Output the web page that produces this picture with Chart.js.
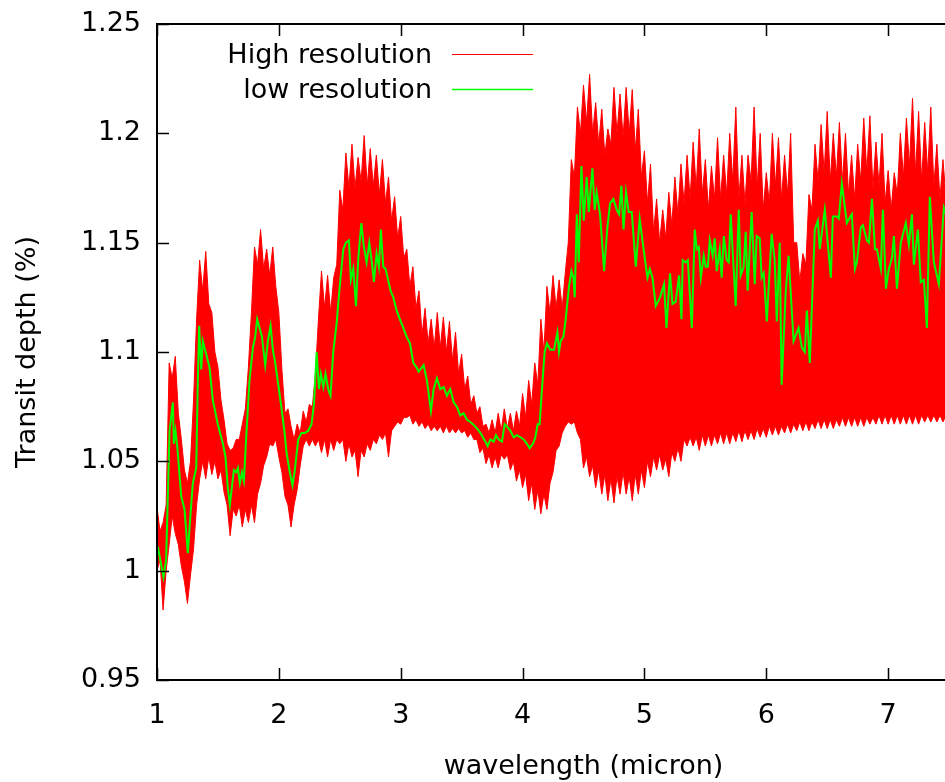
<!DOCTYPE html>
<html>
<head>
<meta charset="utf-8">
<script src="https://cdn.jsdelivr.net/npm/chart.js@4.4.1/dist/chart.umd.min.js"></script>
<style>
  html, body { margin: 0; padding: 0; background: #fff; overflow: hidden; }
  #wrap { width: 945px; height: 782px; overflow: hidden; }
</style>
</head>
<body>
<div id="wrap"><canvas id="spectrum" width="1030" height="782"></canvas></div>
<script>
// Tick values
const xTicks = [1, 2, 3, 4, 5, 6, 7];
const yTicks = [0.95, 1, 1.05, 1.1, 1.15, 1.2, 1.25];

// High resolution spectrum, drawn as the band between its upper and lower edge
const hiResWl = [
    1.000, 1.025, 1.050, 1.075, 1.100, 1.125, 1.150, 1.175, 1.200, 1.225,
    1.250, 1.275, 1.300, 1.325, 1.350, 1.375, 1.400, 1.425, 1.450, 1.475,
    1.500, 1.525, 1.550, 1.575, 1.600, 1.625, 1.650, 1.675, 1.700, 1.725,
    1.750, 1.775, 1.800, 1.825, 1.850, 1.875, 1.900, 1.925, 1.950, 1.975,
    2.000, 2.025, 2.050, 2.075, 2.100, 2.125, 2.150, 2.175, 2.200, 2.225,
    2.250, 2.275, 2.300, 2.325, 2.350, 2.375, 2.400, 2.425, 2.450, 2.475,
    2.500, 2.525, 2.550, 2.575, 2.600, 2.625, 2.650, 2.675, 2.700, 2.725,
    2.750, 2.775, 2.800, 2.825, 2.850, 2.875, 2.900, 2.925, 2.950, 2.975,
    3.000, 3.025, 3.050, 3.075, 3.100, 3.125, 3.150, 3.175, 3.200, 3.225,
    3.250, 3.275, 3.300, 3.325, 3.350, 3.375, 3.400, 3.425, 3.450, 3.475,
    3.500, 3.525, 3.550, 3.575, 3.600, 3.625, 3.650, 3.675, 3.700, 3.725,
    3.750, 3.775, 3.800, 3.825, 3.850, 3.875, 3.900, 3.925, 3.950, 3.975,
    4.000, 4.025, 4.050, 4.075, 4.100, 4.125, 4.150, 4.175, 4.200, 4.225,
    4.250, 4.275, 4.300, 4.325, 4.350, 4.375, 4.400, 4.425, 4.450, 4.475,
    4.500, 4.525, 4.550, 4.575, 4.600, 4.625, 4.650, 4.675, 4.700, 4.725,
    4.750, 4.775, 4.800, 4.825, 4.850, 4.875, 4.900, 4.925, 4.950, 4.975,
    5.000, 5.025, 5.050, 5.075, 5.100, 5.125, 5.150, 5.175, 5.200, 5.225,
    5.250, 5.275, 5.300, 5.325, 5.350, 5.375, 5.400, 5.425, 5.450, 5.475,
    5.500, 5.525, 5.550, 5.575, 5.600, 5.625, 5.650, 5.675, 5.700, 5.725,
    5.750, 5.775, 5.800, 5.825, 5.850, 5.875, 5.900, 5.925, 5.950, 5.975,
    6.000, 6.025, 6.050, 6.075, 6.100, 6.125, 6.150, 6.175, 6.200, 6.225,
    6.250, 6.275, 6.300, 6.325, 6.350, 6.375, 6.400, 6.425, 6.450, 6.475,
    6.500, 6.525, 6.550, 6.575, 6.600, 6.625, 6.650, 6.675, 6.700, 6.725,
    6.750, 6.775, 6.800, 6.825, 6.850, 6.875, 6.900, 6.925, 6.950, 6.975,
    7.000, 7.025, 7.050, 7.075, 7.100, 7.125, 7.150, 7.175, 7.200, 7.225,
    7.250, 7.275, 7.300, 7.325, 7.350, 7.375, 7.400, 7.425, 7.450, 7.475
];
const hiResUpper = [
    1.029, 1.018, 1.022, 1.030, 1.095, 1.088, 1.098, 1.072, 1.060, 1.046,
    1.040, 1.050, 1.078, 1.115, 1.142, 1.128, 1.146, 1.122, 1.118, 1.100,
    1.093, 1.078, 1.069, 1.058, 1.055, 1.056, 1.060, 1.060, 1.067, 1.074,
    1.093, 1.118, 1.148, 1.140, 1.156, 1.138, 1.147, 1.135, 1.148, 1.130,
    1.118, 1.092, 1.072, 1.074, 1.066, 1.060, 1.067, 1.063, 1.073, 1.068,
    1.076, 1.075, 1.090, 1.115, 1.137, 1.120, 1.135, 1.118, 1.134, 1.140,
    1.174, 1.165, 1.191, 1.175, 1.195, 1.175, 1.189, 1.178, 1.199, 1.176,
    1.193, 1.176, 1.190, 1.172, 1.188, 1.168, 1.180, 1.160, 1.171, 1.152,
    1.162, 1.143, 1.147, 1.130, 1.139, 1.120, 1.128, 1.108, 1.120, 1.104,
    1.115, 1.102, 1.118, 1.102, 1.116, 1.100, 1.114, 1.096, 1.109, 1.090,
    1.099, 1.083, 1.089, 1.076, 1.080, 1.072, 1.075, 1.066, 1.067, 1.063,
    1.069, 1.063, 1.072, 1.064, 1.074, 1.065, 1.072, 1.064, 1.073, 1.066,
    1.081, 1.070, 1.087, 1.076, 1.095, 1.085, 1.115, 1.100, 1.130, 1.118,
    1.135, 1.120, 1.133, 1.120, 1.136, 1.150, 1.188, 1.180, 1.212, 1.200,
    1.222, 1.205, 1.227, 1.200, 1.214, 1.195, 1.211, 1.190, 1.202, 1.195,
    1.221, 1.200, 1.218, 1.198, 1.221, 1.200, 1.220, 1.192, 1.211, 1.180,
    1.192, 1.168, 1.186, 1.155, 1.170, 1.150, 1.165, 1.152, 1.173, 1.158,
    1.180, 1.163, 1.186, 1.168, 1.190, 1.170, 1.196, 1.175, 1.202, 1.172,
    1.188, 1.165, 1.185, 1.170, 1.198, 1.170, 1.190, 1.172, 1.200, 1.178,
    1.212, 1.170, 1.190, 1.168, 1.190, 1.178, 1.212, 1.175, 1.200, 1.165,
    1.182, 1.168, 1.200, 1.176, 1.198, 1.170, 1.190, 1.172, 1.200, 1.150,
    1.150, 1.132, 1.145, 1.140, 1.172, 1.165, 1.195, 1.178, 1.204, 1.182,
    1.210, 1.178, 1.200, 1.180, 1.205, 1.178, 1.200, 1.172, 1.190, 1.170,
    1.195, 1.178, 1.207, 1.182, 1.208, 1.175, 1.196, 1.176, 1.200, 1.168,
    1.183, 1.165, 1.182, 1.172, 1.200, 1.180, 1.207, 1.185, 1.216, 1.182,
    1.210, 1.178, 1.205, 1.182, 1.212, 1.176, 1.195, 1.170, 1.188, 1.170
];
const hiResLower = [
    1.000, 1.005, 0.982, 1.000, 1.012, 1.025, 1.017, 1.012, 1.002, 0.995,
    0.985, 0.998, 1.010, 1.030, 1.042, 1.050, 1.042, 1.052, 1.044, 1.050,
    1.042, 1.046, 1.036, 1.030, 1.016, 1.028, 1.025, 1.030, 1.020, 1.028,
    1.022, 1.030, 1.022, 1.035, 1.040, 1.048, 1.052, 1.058, 1.057, 1.060,
    1.052, 1.045, 1.034, 1.030, 1.020, 1.030, 1.037, 1.048, 1.057, 1.060,
    1.057, 1.060, 1.057, 1.060, 1.054, 1.060, 1.052, 1.060, 1.055, 1.060,
    1.058, 1.060, 1.050, 1.058, 1.052, 1.055, 1.043, 1.055, 1.052, 1.058,
    1.055, 1.060, 1.058, 1.062, 1.060, 1.063, 1.052, 1.064, 1.066, 1.068,
    1.067, 1.070, 1.070, 1.071, 1.067, 1.069, 1.066, 1.068, 1.065, 1.067,
    1.064, 1.066, 1.064, 1.066, 1.063, 1.066, 1.063, 1.065, 1.063, 1.065,
    1.063, 1.064, 1.061, 1.063, 1.060, 1.060, 1.054, 1.056, 1.049, 1.053,
    1.047, 1.052, 1.047, 1.053, 1.051, 1.053, 1.046, 1.050, 1.041, 1.046,
    1.038, 1.044, 1.032, 1.040, 1.028, 1.037, 1.026, 1.035, 1.028, 1.040,
    1.045, 1.055, 1.057, 1.063, 1.066, 1.068, 1.067, 1.068, 1.063, 1.060,
    1.047, 1.052, 1.043, 1.048, 1.038, 1.046, 1.035, 1.044, 1.032, 1.042,
    1.031, 1.043, 1.035, 1.045, 1.035, 1.043, 1.032, 1.044, 1.035, 1.046,
    1.038, 1.050, 1.043, 1.052, 1.046, 1.053, 1.046, 1.051, 1.043, 1.054,
    1.050, 1.056, 1.050, 1.060, 1.057, 1.061, 1.057, 1.061, 1.055, 1.062,
    1.057, 1.062, 1.057, 1.062, 1.058, 1.063, 1.058, 1.063, 1.058, 1.063,
    1.059, 1.064, 1.059, 1.064, 1.060, 1.064, 1.060, 1.065, 1.061, 1.065,
    1.061, 1.066, 1.062, 1.066, 1.062, 1.066, 1.063, 1.067, 1.063, 1.067,
    1.064, 1.068, 1.064, 1.068, 1.064, 1.068, 1.065, 1.069, 1.065, 1.069,
    1.065, 1.069, 1.065, 1.069, 1.066, 1.070, 1.066, 1.070, 1.066, 1.070,
    1.066, 1.070, 1.066, 1.070, 1.067, 1.070, 1.067, 1.071, 1.067, 1.071,
    1.067, 1.071, 1.067, 1.071, 1.067, 1.071, 1.067, 1.071, 1.067, 1.071,
    1.067, 1.071, 1.068, 1.071, 1.068, 1.071, 1.068, 1.071, 1.068, 1.071
];

// Low resolution spectrum: [wavelength, transit depth]
const lowRes = [
    [1.007, 1.011], [1.053, 0.997], [1.075, 1.005], [1.103, 1.064], [1.130, 1.077],
    [1.138, 1.058], [1.152, 1.064], [1.166, 1.057], [1.199, 1.034], [1.226, 1.028],
    [1.253, 1.008], [1.275, 1.026], [1.294, 1.040], [1.322, 1.047], [1.335, 1.087],
    [1.346, 1.112], [1.363, 1.092], [1.376, 1.105], [1.390, 1.102], [1.404, 1.099],
    [1.431, 1.093], [1.458, 1.078], [1.499, 1.067], [1.541, 1.058], [1.562, 1.052],
    [1.581, 1.038], [1.598, 1.030], [1.614, 1.038], [1.631, 1.046], [1.650, 1.045],
    [1.664, 1.047], [1.680, 1.040], [1.697, 1.045], [1.713, 1.041], [1.732, 1.061],
    [1.759, 1.087], [1.787, 1.102], [1.806, 1.107], [1.822, 1.115], [1.842, 1.111],
    [1.861, 1.107], [1.888, 1.094], [1.910, 1.105], [1.932, 1.112], [1.951, 1.101],
    [1.970, 1.095], [1.998, 1.084], [2.020, 1.075], [2.047, 1.063],
    [2.063, 1.054], [2.090, 1.045], [2.112, 1.039], [2.131, 1.046], [2.159, 1.060],
    [2.186, 1.063], [2.214, 1.063], [2.241, 1.064], [2.268, 1.067], [2.288, 1.076],
    [2.310, 1.100], [2.329, 1.083], [2.345, 1.090], [2.365, 1.084], [2.383, 1.090],
    [2.405, 1.083], [2.424, 1.080], [2.446, 1.100], [2.474, 1.113], [2.501, 1.131],
    [2.529, 1.147], [2.550, 1.150], [2.575, 1.151], [2.591, 1.133], [2.611, 1.138],
    [2.633, 1.121], [2.652, 1.143], [2.677, 1.159], [2.698, 1.148], [2.720, 1.141],
    [2.742, 1.150], [2.761, 1.142], [2.780, 1.132], [2.802, 1.145], [2.821, 1.139],
    [2.837, 1.156], [2.857, 1.139], [2.876, 1.138], [2.892, 1.134], [2.917, 1.128],
    [2.939, 1.125], [2.966, 1.119], [2.993, 1.115], [3.021, 1.111], [3.048, 1.107],
    [3.076, 1.104], [3.103, 1.095], [3.130, 1.093],
    [3.147, 1.091], [3.188, 1.094], [3.215, 1.087], [3.248, 1.073], [3.270, 1.083],
    [3.297, 1.088], [3.325, 1.083], [3.352, 1.084], [3.379, 1.080], [3.407, 1.083],
    [3.434, 1.077], [3.461, 1.075], [3.489, 1.071], [3.516, 1.072], [3.544, 1.069],
    [3.571, 1.068], [3.612, 1.066], [3.654, 1.063], [3.695, 1.059], [3.713, 1.057],
    [3.736, 1.060], [3.763, 1.059], [3.782, 1.062], [3.804, 1.060], [3.831, 1.059],
    [3.853, 1.067], [3.872, 1.066], [3.900, 1.064], [3.927, 1.061], [3.954, 1.062],
    [3.982, 1.061], [4.009, 1.060], [4.036, 1.058], [4.058, 1.056], [4.085, 1.058],
    [4.105, 1.061], [4.124, 1.067], [4.140, 1.067], [4.159, 1.083], [4.181, 1.100],
    [4.200, 1.104], [4.228, 1.101],
    [4.258, 1.101], [4.286, 1.109], [4.299, 1.100], [4.313, 1.105], [4.335, 1.107],
    [4.354, 1.115], [4.381, 1.130], [4.401, 1.137], [4.417, 1.134], [4.428, 1.125],
    [4.445, 1.163], [4.461, 1.141], [4.483, 1.185], [4.502, 1.160], [4.526, 1.180],
    [4.543, 1.164], [4.573, 1.184], [4.592, 1.165], [4.608, 1.173], [4.636, 1.163],
    [4.669, 1.137], [4.696, 1.157], [4.718, 1.168], [4.745, 1.170], [4.773, 1.165],
    [4.792, 1.163], [4.811, 1.176], [4.828, 1.156], [4.849, 1.173], [4.871, 1.164],
    [4.896, 1.164], [4.929, 1.139], [4.961, 1.161], [4.986, 1.150], [5.005, 1.142],
    [5.025, 1.134], [5.044, 1.138], [5.066, 1.134], [5.093, 1.121], [5.128, 1.125],
    [5.161, 1.131], [5.181, 1.111], [5.210, 1.136], [5.230, 1.122], [5.257, 1.123],
    [5.284, 1.135], [5.304, 1.115],
    [5.314, 1.142], [5.339, 1.141], [5.356, 1.142], [5.389, 1.111], [5.413, 1.156],
    [5.430, 1.147], [5.446, 1.148], [5.463, 1.134], [5.487, 1.144], [5.503, 1.139],
    [5.520, 1.139], [5.536, 1.151], [5.560, 1.144], [5.577, 1.152], [5.593, 1.137],
    [5.618, 1.147], [5.634, 1.134], [5.651, 1.153], [5.675, 1.142], [5.692, 1.141],
    [5.708, 1.163], [5.749, 1.121], [5.774, 1.165], [5.790, 1.135], [5.814, 1.139],
    [5.831, 1.155], [5.847, 1.128], [5.880, 1.164], [5.905, 1.131], [5.921, 1.153],
    [5.946, 1.152], [5.962, 1.134], [5.979, 1.136], [6.004, 1.114], [6.044, 1.154],
    [6.069, 1.142], [6.086, 1.114], [6.110, 1.150], [6.126, 1.085], [6.159, 1.127],
    [6.183, 1.144], [6.224, 1.105], [6.265, 1.111], [6.292, 1.102], [6.316, 1.100],
    [6.333, 1.119], [6.357, 1.095], [6.398, 1.156],
    [6.423, 1.160], [6.439, 1.147], [6.480, 1.165], [6.530, 1.134], [6.546, 1.162],
    [6.579, 1.162], [6.595, 1.161], [6.620, 1.177], [6.661, 1.159], [6.702, 1.163],
    [6.727, 1.138], [6.743, 1.141], [6.776, 1.157], [6.793, 1.158], [6.826, 1.151],
    [6.842, 1.150], [6.867, 1.170], [6.892, 1.147], [6.908, 1.147], [6.940, 1.138],
    [6.957, 1.165], [6.982, 1.129], [7.006, 1.138], [7.031, 1.143], [7.047, 1.153],
    [7.072, 1.129], [7.104, 1.150], [7.145, 1.159], [7.170, 1.149], [7.195, 1.163],
    [7.211, 1.140], [7.244, 1.156], [7.268, 1.132], [7.293, 1.133], [7.318, 1.111],
    [7.342, 1.171], [7.375, 1.141], [7.416, 1.131], [7.457, 1.166], [7.490, 1.160]
];

const FONT = { family: '"DejaVu Sans", sans-serif', size: 27 };
Chart.defaults.font.family = FONT.family;
Chart.defaults.font.size = FONT.size;
Chart.defaults.color = '#000';

// gnuplot style frame: border, inward tics and the key
const gnuplotFrame = {
    id: 'gnuplotFrame',
    afterDatasetsDraw(chart) {
        const ctx = chart.ctx;
        const a = chart.chartArea;
        const xs = chart.scales.x;
        const ys = chart.scales.y;
        const ticLen = 12;

        ctx.save();
        ctx.strokeStyle = '#000';
        ctx.lineWidth = 2;
        ctx.strokeRect(a.left, a.top, a.right - a.left, a.bottom - a.top);

        ctx.lineWidth = 1.5;
        ctx.beginPath();
        xTicks.forEach(function(v) {
            const px = Math.round(xs.getPixelForValue(v)) + 0.5;
            ctx.moveTo(px, a.bottom);
            ctx.lineTo(px, a.bottom - ticLen);
            ctx.moveTo(px, a.top);
            ctx.lineTo(px, a.top + ticLen);
        });
        yTicks.forEach(function(v) {
            const py = Math.round(ys.getPixelForValue(v)) + 0.5;
            ctx.moveTo(a.left, py);
            ctx.lineTo(a.left + ticLen, py);
            ctx.moveTo(a.right, py);
            ctx.lineTo(a.right - ticLen, py);
        });
        ctx.stroke();

        // key
        const key = [
            { ds: chart.data.datasets[0], y: 55 },
            { ds: chart.data.datasets[2], y: 90 }
        ];
        ctx.font = FONT.size + 'px ' + FONT.family;
        ctx.textAlign = 'right';
        ctx.textBaseline = 'middle';
        key.forEach(function(k) {
            ctx.fillStyle = '#000';
            ctx.fillText(k.ds.label, 432, k.y + 1);
            ctx.strokeStyle = k.ds.borderColor;
            ctx.lineWidth = k.ds.keyWidth;
            ctx.beginPath();
            ctx.moveTo(452, k.y - 0.5);
            ctx.lineTo(533, k.y - 0.5);
            ctx.stroke();
        });
        ctx.restore();
    }
};

const upperPts = hiResWl.map(function(w, i) { return { x: w, y: hiResUpper[i] }; });
const lowerPts = hiResWl.map(function(w, i) { return { x: w, y: hiResLower[i] }; });
const lowPts = lowRes.map(function(p) { return { x: p[0], y: p[1] }; });

const ctx = document.getElementById('spectrum').getContext('2d');
new Chart(ctx, {
    type: 'line',
    data: {
        datasets: [
            {
                label: 'High resolution',
                data: upperPts,
                borderColor: '#ff0000',
                backgroundColor: '#ff0000',
                borderWidth: 1,
                keyWidth: 1,
                pointRadius: 0,
                tension: 0,
                fill: '+1',
                order: 2
            },
            {
                label: 'High resolution (lower edge)',
                data: lowerPts,
                borderColor: '#ff0000',
                backgroundColor: '#ff0000',
                borderWidth: 1,
                pointRadius: 0,
                tension: 0,
                fill: false,
                order: 1
            },
            {
                label: 'low resolution',
                data: lowPts,
                borderColor: '#00ff00',
                backgroundColor: '#00ff00',
                borderWidth: 2,
                keyWidth: 1.5,
                pointRadius: 0,
                tension: 0,
                fill: false,
                order: 0
            }
        ]
    },
    options: {
        responsive: false,
        animation: false,
        devicePixelRatio: 1,
        layout: { padding: { top: 24, right: 20, left: 0, bottom: 0 } },
        plugins: {
            legend: { display: false },
            tooltip: { enabled: false }
        },
        scales: {
            x: {
                type: 'linear',
                min: 1,
                max: 8,
                afterBuildTicks: function(s) { s.ticks = xTicks.map(function(v) { return { value: v }; }); },
                afterFit: function(s) { s.height = 102; },
                ticks: {
                    padding: 12,
                    maxRotation: 0,
                    callback: function(v) { return String(v); }
                },
                grid: { display: false },
                border: { display: false },
                title: {
                    display: true,
                    text: 'wavelength (micron)',
                    font: { lineHeight: 1 },
                    padding: { top: 0, bottom: 2 }
                }
            },
            y: {
                min: 0.95,
                max: 1.25,
                afterBuildTicks: function(s) { s.ticks = yTicks.map(function(v) { return { value: v }; }); },
                afterFit: function(s) {
                    s.width = 157;
                    s.paddingTop = 0;
                    s.paddingBottom = 0;
                },
                ticks: {
                    padding: 8,
                    callback: function(v) { return String(v); }
                },
                grid: { display: false },
                border: { display: false },
                title: {
                    display: true,
                    text: 'Transit depth (%)',
                    padding: { top: 12, bottom: 0 }
                }
            }
        }
    },
    plugins: [gnuplotFrame]
});
</script>
</body>
</html>
